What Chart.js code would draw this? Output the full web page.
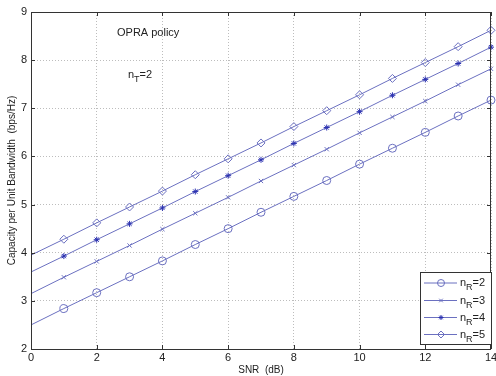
<!DOCTYPE html>
<html><head><meta charset="utf-8">
<script src="https://cdn.jsdelivr.net/npm/chart.js@4/dist/chart.umd.min.js"></script>
<style>html,body{margin:0;padding:0;background:#fff}canvas{display:block}</style>
</head><body>
<div style="width:496px;height:376px"><canvas id="c" width="496" height="376"></canvas></div>
<script>
const snr = [0,1,2,3,4,5,6,7,8,9,10,11,12,13,14];
const nR2 = [2.50,2.84,3.17,3.50,3.83,4.17,4.50,4.84,5.17,5.50,5.84,6.17,6.50,6.84,7.17];
const nR3 = [3.15,3.49,3.82,4.15,4.49,4.82,5.15,5.49,5.82,6.15,6.49,6.82,7.15,7.49,7.82];
const nR4 = [3.60,3.93,4.27,4.60,4.93,5.27,5.60,5.93,6.27,6.60,6.93,7.27,7.60,7.93,8.27];
const nR5 = [3.95,4.28,4.62,4.95,5.28,5.62,5.95,6.28,6.62,6.95,7.28,7.62,7.95,8.28,8.62];
const seriesNames = ['2','3','4','5'];
const xTicks = [0,2,4,6,8,10,12,14];
const yTicks = [2,3,4,5,6,7,8,9];

const FONT = "'Liberation Sans', Arial, sans-serif";
const LINE = '#6b70c0';
const styles = [
  {pointStyle:'circle', radius:4, color:LINE},
  {pointStyle:'crossRot', radius:3, color:LINE},
  {pointStyle:'star', radius:3, color:'#2a30b0'},
  {pointStyle:'rectRot', radius:4, color:LINE}
];
const seriesData = [nR2, nR3, nR4, nR5];

const datasets = seriesData.map((arr, k) => ({
  label: 'n_R=' + seriesNames[k],
  data: snr.map((x, i) => ({x: x, y: arr[i]})),
  borderColor: LINE,
  borderWidth: 1,
  backgroundColor: 'transparent',
  pointStyle: styles[k].pointStyle,
  pointRadius: ctx => ctx.dataIndex === 0 ? 0 : styles[k].radius,
  pointBorderColor: styles[k].color,
  pointBackgroundColor: 'transparent',
  pointBorderWidth: 1,
  pointHoverRadius: 0,
  tension: 0,
  clip: 6
}));

function subText(ctx, x, y, main, sub, rest, size) {
  ctx.font = size + 'px ' + FONT;
  ctx.textBaseline = 'alphabetic';
  ctx.textAlign = 'left';
  ctx.fillText(main, x, y);
  let w = ctx.measureText(main).width;
  ctx.font = (size - 2) + 'px ' + FONT;
  ctx.fillText(sub, x + w, y + 4);
  w += ctx.measureText(sub).width;
  ctx.font = size + 'px ' + FONT;
  ctx.fillText(rest, x + w, y);
}

const noPad = function () { return {left: 0, top: 0, right: 0, bottom: 0}; };

const decor = {
  id: 'decor',
  afterDatasetsDraw(chart) {
    const ctx = chart.ctx;
    const a = chart.chartArea;
    const xs = chart.scales.x, ys = chart.scales.y;
    ctx.save();
    ctx.strokeStyle = '#333';
    ctx.lineWidth = 1;
    ctx.setLineDash([]);
    ctx.strokeRect(Math.round(a.left) + 0.5, Math.round(a.top) + 0.5,
                   Math.round(a.right - a.left) - 1, Math.round(a.bottom - a.top));
    ctx.beginPath();
    xTicks.forEach(v => {
      const px = Math.round(xs.getPixelForValue(v)) + 0.5;
      ctx.moveTo(px, a.bottom); ctx.lineTo(px, a.bottom - 4);
      ctx.moveTo(px, a.top); ctx.lineTo(px, a.top + 4);
    });
    yTicks.forEach(v => {
      const py = Math.round(ys.getPixelForValue(v)) + 0.5;
      ctx.moveTo(a.left, py); ctx.lineTo(a.left + 4, py);
      ctx.moveTo(a.right, py); ctx.lineTo(a.right - 4, py);
    });
    ctx.stroke();

    const bx = 420.5, by = 272.5, bw = 71, bh = 72;
    ctx.fillStyle = '#fff';
    ctx.fillRect(bx, by, bw, bh);
    ctx.strokeStyle = '#333';
    ctx.strokeRect(bx, by, bw, bh);
    const rowY = [283, 300.5, 317.5, 334.5];
    seriesNames.forEach((n, k) => {
      const y = rowY[k];
      ctx.strokeStyle = LINE;
      ctx.lineWidth = 1;
      ctx.beginPath();
      ctx.moveTo(424, y); ctx.lineTo(457, y);
      ctx.stroke();
      ctx.strokeStyle = styles[k].color;
      ctx.fillStyle = 'transparent';
      Chart.helpers.drawPoint(ctx, {pointStyle: styles[k].pointStyle, radius: styles[k].radius - 0.5, borderWidth: 1, rotation: 0}, 441, y);
      ctx.fillStyle = '#222';
      subText(ctx, 460, y + 3, 'n', 'R', '=' + n, 11);
    });

    ctx.fillStyle = '#222';
    ctx.font = '11px ' + FONT;
    ctx.textAlign = 'left';
    ctx.textBaseline = 'middle';
    ctx.fillText('OPRA policy', 117, 33);
    subText(ctx, 128, 78, 'n', 'T', '=2', 11);
    ctx.restore();
  }
};

new Chart(document.getElementById('c'), {
  type: 'line',
  data: { datasets: datasets },
  options: {
    responsive: false,
    animation: false,
    devicePixelRatio: 1,
    layout: { padding: { top: 12, right: 2, left: 0, bottom: 0 } },
    plugins: { legend: { display: false }, tooltip: { enabled: false } },
    scales: {
      x: {
        type: 'linear', min: 0, max: 14,
        afterBuildTicks: s => { s.ticks = xTicks.map(v => ({value: v})); },
        afterFit: s => { s.height = 27; s.paddingRight = 0; s.paddingLeft = 0; s.getPadding = noPad; },
        ticks: { font: { family: FONT, size: 11 }, color: '#222', padding: 2, maxRotation: 0, autoSkip: false },
        grid: { color: '#bdbdbd', drawTicks: false, lineWidth: 1 },
        border: { display: false, dash: [1, 2] },
        title: { display: true, text: 'SNR  (dB)', font: { family: FONT, size: 10 }, color: '#222', padding: { top: 2, bottom: 0 } }
      },
      y: {
        type: 'linear', min: 2, max: 9,
        afterBuildTicks: s => { s.ticks = yTicks.map(v => ({value: v})); },
        afterFit: s => { s.width = 31; s.paddingTop = 0; s.paddingBottom = 0; s.getPadding = noPad; },
        ticks: { font: { family: FONT, size: 11 }, color: '#222', padding: 4, autoSkip: false },
        grid: { color: '#bdbdbd', drawTicks: false, lineWidth: 1 },
        border: { display: false, dash: [1, 2] },
        title: { display: true, text: 'Capacity per Unit Bandwidth  (bps/Hz)', font: { family: FONT, size: 10 }, color: '#222', padding: { top: 6, bottom: 0 } }
      }
    }
  },
  plugins: [decor]
});
</script>
</body></html>
